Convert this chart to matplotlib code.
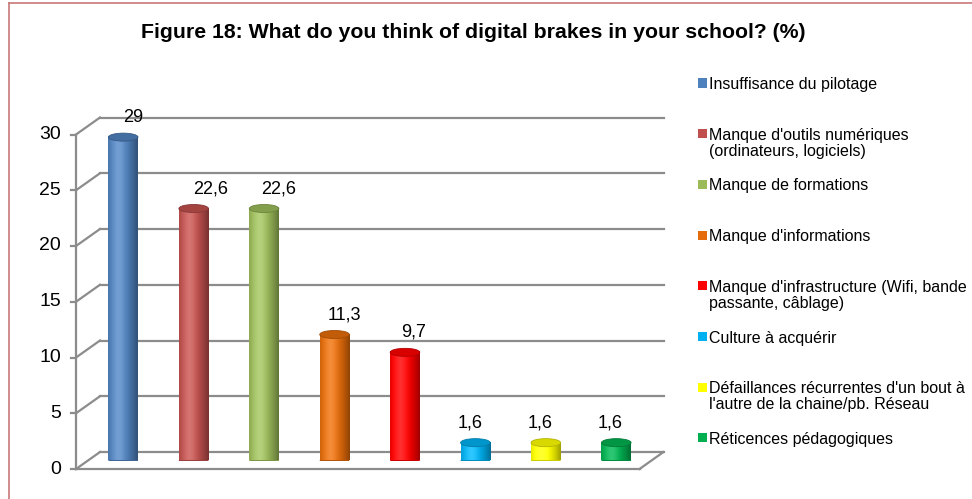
import matplotlib
matplotlib.use('Agg')
import matplotlib.pyplot as plt
import matplotlib.transforms as mtransforms
from matplotlib.patches import Ellipse, Rectangle
from matplotlib.lines import Line2D
import matplotlib.colors as mcolors
import numpy as np

plt.rcParams['font.family'] = ['Liberation Sans', 'DejaVu Sans']

# data
categories = [
    'Insuffisance du pilotage',
    "Manque d'outils numériques\n(ordinateurs, logiciels)",
    'Manque de formations',
    "Manque d'informations",
    "Manque d'infrastructure (Wifi, bande\npassante, câblage)",
    'Culture à acquérir',
    "Défaillances récurrentes d'un bout à\nl'autre de la chaine/pb. Réseau",
    'Réticences pédagogiques',
]
values = [29, 22.6, 22.6, 11.3, 9.7, 1.6, 1.6, 1.6]
value_labels = ['29', '22,6', '22,6', '11,3', '9,7', '1,6', '1,6', '1,6']
yticks = [0, 5, 10, 15, 20, 25, 30]

colors = ['#4F81BD', '#C0504D', '#9BBB59', '#E46C0A',
          '#FF0000', '#00B0F0', '#FFFF00', '#00B050']
label_dx = [10, 17, 15, 10, 9, -5, -6, -6]   # excel puts labels a bit off-centre

W, H = 972, 499
fig = plt.figure(figsize=(W / 100, H / 100), dpi=100)
ax = fig.add_axes([88 / W, 38.5 / H, 563.5 / W, 334.5 / H])
ax.set_xlim(-0.5, len(values) - 0.5)
ax.set_ylim(0, 30)
ax.axis('off')

# 3d box: front / back offsets in pixels
front = mtransforms.offset_copy(ax.transData, fig=fig, x=-12, y=-8.5, units='dots')
back = mtransforms.offset_copy(ax.transData, fig=fig, x=12, y=8.5, units='dots')
grid_kw = dict(color='#8c8c8c', lw=1.6, clip_on=False, zorder=1)
x0, x1 = -0.5, len(values) - 0.5

for t in yticks:
    ax.plot([x0, x1], [t, t], transform=back, **grid_kw)
    # diagonal on the side wall
    p_front = front.transform((x0, t))
    p_back = back.transform((x0, t))
    fig.add_artist(Line2D([p_front[0], p_back[0]], [p_front[1], p_back[1]],
                          transform=None, **grid_kw))
    # tick mark + label
    fig.add_artist(Line2D([p_front[0] - 5, p_front[0]], [p_front[1], p_front[1]],
                          transform=None, **grid_kw))
    ax.annotate(str(t), (x0, t), xycoords=front, xytext=(-15, 0),
                textcoords='offset pixels', ha='right', va='center', fontsize=14)

# front axis line, floor front edge, right floor diagonal
ax.plot([x0, x0], [0, 30], transform=front, **grid_kw)
ax.plot([x0, x1], [0, 0], transform=front, **grid_kw)
pf = front.transform((x1, 0))
pb = back.transform((x1, 0))
fig.add_artist(Line2D([pf[0], pb[0]], [pf[1], pb[1]], transform=None, **grid_kw))

# cylinders
bw = 0.42
eh = 0.72
tt = np.linspace(0, 1, 60)
g = np.cos((tt - 0.35) * np.pi / 1.35)
for i, (v, c) in enumerate(zip(values, colors)):
    rgb = np.array(mcolors.to_rgb(c))
    shade = rgb[None, :] * (0.6 + 0.45 * g[:, None])
    shade = shade + (1 - rgb[None, :]) * 0.18 * (g[:, None] ** 8)
    img = np.clip(shade, 0, 1)[None, :, :]
    ax.add_patch(Ellipse((i, 0), bw, eh, facecolor=rgb * 0.8, edgecolor='none', zorder=2))
    ax.imshow(img, extent=[i - bw / 2, i + bw / 2, 0, v], aspect='auto',
              interpolation='bilinear', zorder=3)
    ax.add_patch(Ellipse((i, v), bw, eh, facecolor=np.clip(rgb * 0.85, 0, 1),
                         edgecolor=np.clip(rgb * 0.7, 0, 1), lw=0.6, zorder=4))
    ax.annotate(value_labels[i], (i, v), xytext=(label_dx[i], 20),
                textcoords='offset pixels', ha='center', va='center', fontsize=13)

ax.set_xlim(-0.5, len(values) - 0.5)
ax.set_ylim(0, 30)

# title
fig.text(473.5 / W, 1 - 33 / H, 'Figure 18: What do you think of digital brakes in your school? (%)',
         ha='center', va='center', fontsize=15.3, fontweight='bold')

# legend, evenly spaced entries
for i, (lab, c) in enumerate(zip(categories, colors)):
    yc = 83 + i * 50.7
    fig.add_artist(Rectangle((698 / W, 1 - (yc + 4.5) / H), 9 / W, 9 / H,
                             transform=fig.transFigure, facecolor=c, edgecolor='none'))
    fig.text(709 / W, 1 - (yc - 6) / H, lab, ha='left', va='top',
             fontsize=11.5, linespacing=1.1)

# chart border (left and top)
border = '#c87878'
fig.add_artist(Line2D([9 / W, 9 / W], [0, 1 - 2.5 / H], transform=fig.transFigure,
                      color=border, lw=1.2))
fig.add_artist(Line2D([9 / W, 1], [1 - 2.5 / H, 1 - 2.5 / H], transform=fig.transFigure,
                      color=border, lw=1.2))

fig.savefig('out.png', dpi=100)
